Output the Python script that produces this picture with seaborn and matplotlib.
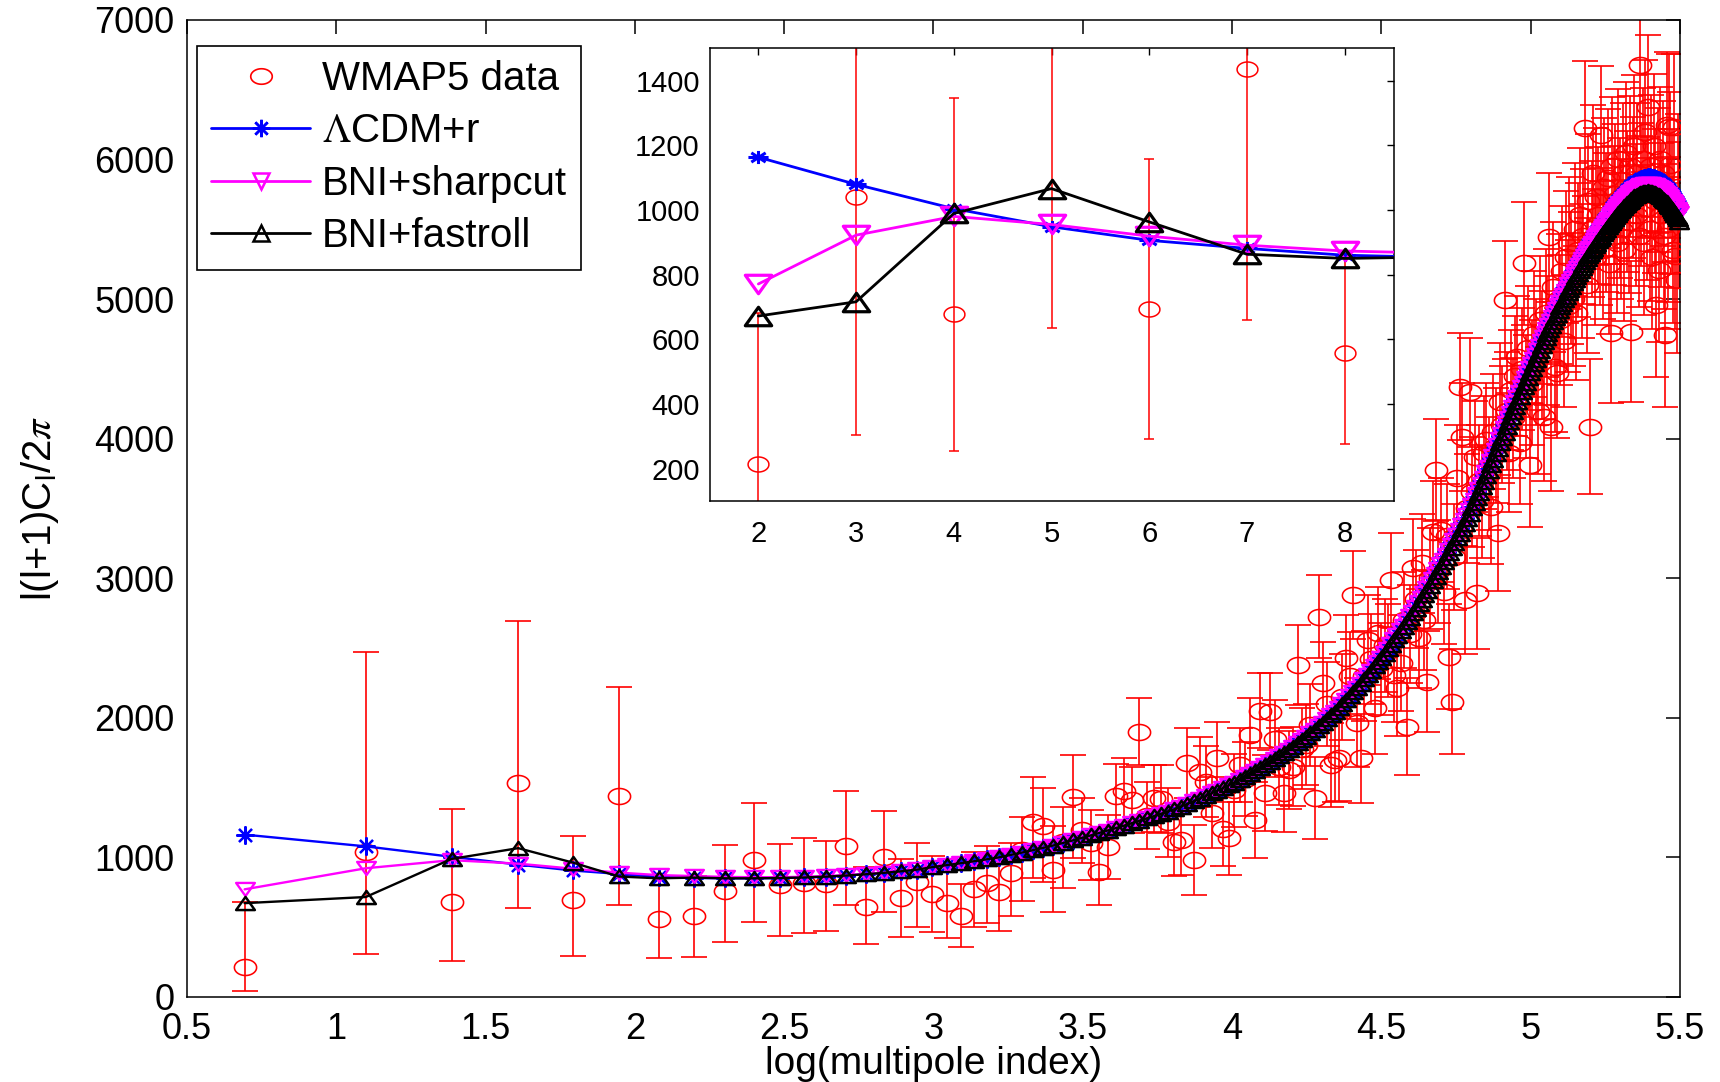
import numpy as np
import matplotlib
matplotlib.use("Agg")
import matplotlib.pyplot as plt
import seaborn as sns
from matplotlib.path import Path
from matplotlib.lines import Line2D

# ---------------- data ----------------
ell = list(range(2, 245))  # multipole index l = 2 .. 244

wmap5 = [
    213, 1040, 677, 1531, 693, 1437, 559, 582, 762, 981,
    802, 819, 807, 1082, 647, 1000, 707, 826, 738, 676,
    582, 771, 814, 755, 890, 1053, 1256, 1225, 909, 1113,
    1435, 1196, 1101, 898, 1077, 1440, 1478, 1412, 1901, 1300,
    1423, 1420, 1250, 1113, 1124, 1674, 982, 1614, 1543, 1321,
    1715, 1201, 1137, 1480, 1662, 1560, 1877, 1268, 2051, 1464,
    2044, 1850, 1650, 1459, 1626, 1650, 2380, 1780, 1806, 1950,
    1423, 2725, 2247, 2100, 1662, 1698, 1710, 2150, 2427, 2300,
    2880, 1966, 1710, 2300, 2558, 2420, 2068, 2606, 2350, 2520,
    2480, 2988, 2307, 2212, 2391, 2700, 1937, 2600, 3071, 2850,
    2570, 3107, 2700, 2259, 3000, 3334, 3776, 3050, 3346, 2904,
    3300, 2438, 2116, 3150, 3716, 4373, 4010, 2845, 3500, 4332,
    3620, 3871, 2892, 3700, 3550, 3900, 3991, 3750, 3513, 4050,
    3950, 3322, 4265, 4100, 4994, 4200, 3900, 4350, 4150, 4450,
    4588, 3967, 4500, 5257, 4300, 4650, 3812, 4400, 4750, 4550,
    4200, 4850, 4600, 4158, 4900, 4700, 5443, 4086, 5089, 4516,
    4469, 5000, 4850, 5200, 4700, 5300, 4950, 5400, 5150, 5000,
    5500, 4900, 5350, 5600, 5200, 5450, 6224, 5100, 5700, 4086,
    5500, 5900, 5300, 5734, 5600, 5450, 6176, 5350, 5800, 5550,
    5866, 5250, 4755, 5950, 5600, 5750, 5400, 6000, 5650, 5500,
    5900, 5350, 6050, 5700, 5550, 5950, 4767, 5800, 6100, 5600,
    5900, 5450, 6678, 5750, 6000, 5400, 6200, 5650, 6379, 5500,
    5950, 5300, 6100, 5700, 4958, 5850, 5209, 6000, 5600, 5900,
    5450, 4743, 6248, 5500, 6236, 5961, 5700, 5350, 6231, 5305,
    5137, 5800, 5600,
]

# asymmetric errors for l = 2 .. 35
wmap5_err_minus_lowl = [
    168, 735, 422, 896, 402, 777, 282, 293, 366, 444,
    365, 363, 332, 425, 270, 389, 280, 328, 270, 256,
    226, 273, 287, 280, 310, 363, 406, 399, 298, 335,
    442, 239, 263, 239,
]
wmap5_err_plus_lowl = [
    467, 1434, 668, 1165, 463, 782, 291, 288, 327, 411,
    292, 318, 310, 396, 283, 333, 283, 274, 272, 264,
    230, 269, 266, 275, 215, 239, 322, 270, 316, 250,
    299, 227, 239, 252,
]
# symmetric errors for l = 36 .. 244
wmap5_err_highl = [
    230, 232, 234, 236, 238, 240, 240, 242, 244, 246,
    248, 250, 250, 252, 254, 256, 258, 260, 260, 262,
    264, 266, 268, 270, 270, 272, 274, 276, 278, 280,
    282, 284, 286, 288, 290, 292, 294, 296, 298, 300,
    302, 304, 306, 308, 310, 312, 314, 316, 318, 320,
    322, 324, 326, 328, 330, 332, 334, 336, 338, 340,
    342, 344, 346, 348, 350, 352, 354, 356, 358, 360,
    362, 364, 366, 368, 370, 372, 374, 376, 378, 380,
    382, 384, 386, 388, 390, 392, 394, 396, 398, 400,
    402, 404, 406, 408, 410, 412, 414, 416, 418, 420,
    422, 424, 426, 428, 430, 432, 434, 436, 438, 440,
    442, 444, 446, 448, 450, 452, 454, 456, 458, 460,
    461, 462, 463, 464, 465, 466, 467, 468, 469, 470,
    471, 472, 473, 474, 475, 476, 477, 478, 479, 480,
    481, 482, 483, 484, 485, 486, 487, 488, 489, 490,
    491, 492, 493, 494, 495, 496, 497, 498, 499, 500,
    500, 501, 501, 502, 502, 503, 503, 504, 504, 505,
    505, 506, 506, 507, 507, 508, 508, 509, 509, 510,
    510, 511, 511, 512, 512, 513, 513, 514, 514, 515,
    515, 516, 516, 517, 517, 518, 518, 519, 519, 520,
    520, 521, 521, 522, 522, 523, 523, 524, 524,
]

lcdm_r = [
    1163, 1079, 1004, 948, 906, 881, 860, 853, 850, 850,
    852, 856, 862, 870, 879, 889, 900, 912, 930, 944,
    958, 972, 986, 1000, 1017, 1034, 1051, 1068, 1085, 1103,
    1121, 1139, 1157, 1175, 1192, 1210, 1227, 1245, 1262, 1279,
    1295, 1312, 1328, 1345, 1364, 1383, 1402, 1421, 1440, 1459,
    1478, 1497, 1516, 1535, 1556, 1577, 1598, 1619, 1640, 1661,
    1682, 1703, 1724, 1745, 1769, 1793, 1817, 1841, 1865, 1890,
    1915, 1940, 1965, 1990, 2017, 2044, 2071, 2098, 2125, 2155,
    2185, 2215, 2245, 2275, 2306, 2337, 2368, 2399, 2430, 2464,
    2498, 2532, 2566, 2600, 2634, 2668, 2702, 2736, 2770, 2804,
    2838, 2872, 2906, 2940, 2975, 3010, 3045, 3080, 3115, 3150,
    3185, 3220, 3255, 3290, 3326, 3362, 3398, 3434, 3470, 3508,
    3546, 3584, 3622, 3660, 3700, 3740, 3780, 3820, 3860, 3900,
    3940, 3980, 4020, 4060, 4098, 4136, 4174, 4212, 4250, 4286,
    4322, 4358, 4394, 4430, 4464, 4498, 4532, 4566, 4600, 4632,
    4664, 4696, 4728, 4760, 4789, 4818, 4847, 4876, 4905, 4932,
    4959, 4986, 5013, 5040, 5065, 5090, 5115, 5140, 5165, 5188,
    5211, 5234, 5257, 5280, 5301, 5322, 5343, 5364, 5385, 5404,
    5423, 5442, 5461, 5480, 5497, 5514, 5531, 5548, 5565, 5582,
    5599, 5616, 5633, 5650, 5664, 5678, 5692, 5706, 5720, 5732,
    5744, 5756, 5768, 5780, 5790, 5800, 5810, 5820, 5830, 5836,
    5842, 5848, 5854, 5860, 5862, 5865, 5867, 5870, 5872, 5871,
    5869, 5866, 5864, 5862, 5857, 5851, 5846, 5840, 5835, 5826,
    5817, 5808, 5799, 5790, 5778, 5766, 5754, 5742, 5730, 5714,
    5698, 5681, 5665,
]

bni_sharpcut = [
    771, 922, 980, 955, 919, 891, 873, 866, 860, 858,
    858, 861, 866, 873, 881, 891, 902, 914, 930, 944,
    958, 972, 986, 1000, 1017, 1034, 1051, 1068, 1085, 1103,
    1121, 1139, 1157, 1175, 1192, 1210, 1227, 1245, 1262, 1279,
    1295, 1312, 1328, 1345, 1364, 1383, 1402, 1421, 1440, 1459,
    1478, 1497, 1516, 1535, 1556, 1577, 1598, 1619, 1640, 1661,
    1682, 1703, 1724, 1745, 1769, 1793, 1817, 1841, 1865, 1890,
    1915, 1940, 1965, 1990, 2017, 2044, 2071, 2098, 2125, 2155,
    2185, 2215, 2245, 2275, 2306, 2337, 2368, 2399, 2430, 2462,
    2494, 2528, 2561, 2594, 2627, 2661, 2694, 2728, 2761, 2794,
    2827, 2860, 2893, 2927, 2961, 2996, 3030, 3065, 3099, 3134,
    3168, 3203, 3237, 3272, 3308, 3343, 3379, 3414, 3450, 3487,
    3525, 3563, 3600, 3638, 3678, 3718, 3758, 3797, 3837, 3877,
    3916, 3956, 3996, 4035, 4073, 4111, 4148, 4186, 4224, 4259,
    4295, 4331, 4367, 4402, 4436, 4470, 4503, 4537, 4571, 4602,
    4634, 4666, 4698, 4729, 4758, 4787, 4816, 4844, 4873, 4900,
    4927, 4954, 4981, 5007, 5032, 5057, 5082, 5106, 5131, 5154,
    5177, 5199, 5222, 5245, 5266, 5286, 5307, 5328, 5349, 5368,
    5387, 5405, 5424, 5443, 5460, 5476, 5493, 5510, 5527, 5543,
    5560, 5577, 5594, 5610, 5624, 5638, 5652, 5665, 5679, 5691,
    5703, 5715, 5727, 5738, 5748, 5758, 5768, 5777, 5787, 5793,
    5799, 5804, 5810, 5816, 5818, 5820, 5822, 5825, 5827, 5826,
    5824, 5820, 5818, 5816, 5811, 5804, 5799, 5793, 5788, 5778,
    5769, 5760, 5751, 5741, 5729, 5717, 5705, 5692, 5680, 5664,
    5648, 5631, 5615,
]

bni_fastroll = [
    672, 716, 989, 1066, 963, 863, 850, 855, 850, 850,
    852, 856, 862, 870, 879, 889, 900, 912, 930, 944,
    958, 972, 986, 1000, 1017, 1034, 1051, 1068, 1085, 1103,
    1121, 1139, 1157, 1175, 1192, 1210, 1227, 1245, 1262, 1279,
    1295, 1312, 1328, 1345, 1364, 1383, 1402, 1421, 1440, 1459,
    1478, 1497, 1516, 1535, 1556, 1577, 1598, 1619, 1640, 1661,
    1682, 1703, 1724, 1745, 1769, 1793, 1817, 1841, 1865, 1890,
    1915, 1940, 1965, 1990, 2017, 2044, 2071, 2098, 2125, 2155,
    2185, 2215, 2245, 2275, 2306, 2337, 2368, 2399, 2430, 2459,
    2490, 2522, 2554, 2586, 2619, 2652, 2685, 2718, 2750, 2782,
    2814, 2846, 2878, 2910, 2944, 2978, 3012, 3046, 3080, 3114,
    3148, 3182, 3216, 3250, 3285, 3320, 3355, 3390, 3425, 3462,
    3500, 3537, 3574, 3612, 3651, 3690, 3730, 3769, 3808, 3848,
    3887, 3926, 3966, 4005, 4042, 4080, 4117, 4154, 4192, 4227,
    4262, 4298, 4333, 4368, 4402, 4435, 4468, 4502, 4535, 4566,
    4598, 4629, 4661, 4692, 4721, 4749, 4778, 4806, 4835, 4861,
    4888, 4914, 4941, 4967, 4992, 5016, 5041, 5065, 5090, 5112,
    5135, 5157, 5180, 5202, 5223, 5243, 5264, 5284, 5305, 5323,
    5342, 5360, 5379, 5397, 5414, 5430, 5447, 5463, 5480, 5496,
    5513, 5529, 5546, 5562, 5576, 5589, 5603, 5616, 5630, 5641,
    5653, 5664, 5676, 5687, 5697, 5706, 5716, 5725, 5735, 5740,
    5746, 5751, 5757, 5762, 5764, 5766, 5768, 5770, 5772, 5770,
    5768, 5764, 5762, 5759, 5754, 5747, 5742, 5735, 5730, 5720,
    5711, 5701, 5692, 5682, 5670, 5657, 5645, 5632, 5620, 5604,
    5588, 5571, 5555,
]

series_labels = ["WMAP5 data", "$\\Lambda$CDM+r", "BNI+sharpcut", "BNI+fastroll"]
main_xticks = [0.5, 1, 1.5, 2, 2.5, 3, 3.5, 4, 4.5, 5, 5.5]
main_xticklabels = ["0.5", "1", "1.5", "2", "2.5", "3", "3.5", "4", "4.5", "5", "5.5"]
main_yticks = [0, 1000, 2000, 3000, 4000, 5000, 6000, 7000]
inset_xticks = [2, 3, 4, 5, 6, 7, 8]
inset_yticks = [200, 400, 600, 800, 1000, 1200, 1400]
x_label = "log(multipole index)"
y_label = "l(l+1)C$_\\mathregular{l}$/2$\\pi$"

# ---------------- styling ----------------
sns.set_theme(style="white")
plt.rcParams["font.family"] = ["Liberation Sans", "DejaVu Sans"]
plt.rcParams["mathtext.fontset"] = "stix"

RED, BLUE, MAG, BLK = "#ff0000", "#0000ff", "#ff00ff", "#000000"

theta = np.linspace(0, 2 * np.pi, 73)
ellipse_mk = Path(np.column_stack([np.cos(theta), 0.72 * np.sin(theta)]))
tri_up_mk = Path([(-1, -0.7), (1, -0.7), (0, 0.7), (-1, -0.7)],
                 [Path.MOVETO, Path.LINETO, Path.LINETO, Path.CLOSEPOLY])
tri_dn_mk = Path([(-1, 0.7), (1, 0.7), (0, -0.7), (-1, 0.7)],
                 [Path.MOVETO, Path.LINETO, Path.LINETO, Path.CLOSEPOLY])
star_mk = (8, 2, 0)
# horizontally stretched asterisk (inset)
wide_star_mk = Path(
    [(0, -0.65), (0, 0.65), (-1, 0), (1, 0),
     (-0.71, -0.46), (0.71, 0.46), (-0.71, 0.46), (0.71, -0.46)],
    [Path.MOVETO, Path.LINETO] * 4)

fig = plt.figure(figsize=(17.2, 10.82), dpi=100)
fig.patch.set_facecolor("white")
ax = fig.add_axes([0.1087, 0.0786, 0.868, 0.903])
ax.set_facecolor("white")

logl = np.log(np.array(ell, dtype=float))
err_minus = wmap5_err_minus_lowl + wmap5_err_highl
err_plus = wmap5_err_plus_lowl + wmap5_err_highl

# data with error bars
ax.errorbar(logl, wmap5, yerr=[err_minus, err_plus], fmt="none",
            ecolor=RED, elinewidth=1.2, capsize=9.5, capthick=1.2, zorder=2)
sns.lineplot(x=logl, y=wmap5, ax=ax, linestyle="none", marker=ellipse_mk,
             markersize=16, markerfacecolor="none", markeredgecolor=RED,
             markeredgewidth=1.15, errorbar=None, legend=False, zorder=3)

# models
model_styles = [
    (lcdm_r, BLUE, star_mk, 13, 1.6),
    (bni_sharpcut, MAG, tri_dn_mk, 13.5, 1.7),
    (bni_fastroll, BLK, tri_up_mk, 13.5, 1.8),
]
for k, (vals, col, mk, ms, mew) in enumerate(model_styles):
    sns.lineplot(x=logl, y=vals, ax=ax, color=col, linewidth=1.7, marker=mk,
                 markersize=ms, markerfacecolor="none", markeredgecolor=col,
                 markeredgewidth=mew, errorbar=None, legend=False,
                 zorder=4 + k, clip_on=False)

ax.set_xlim(0.5, 5.5)
ax.set_ylim(0, 7000)
ax.set_xticks(main_xticks)
ax.set_xticklabels(main_xticklabels)
ax.set_yticks(main_yticks)
ax.set_yticklabels([str(v) for v in main_yticks])
ax.tick_params(direction="in", length=10, width=1.1, top=True, right=True,
               labelsize=26, colors="black")
ax.tick_params(axis="x", pad=11)
ax.tick_params(axis="y", pad=9)
ax.get_yticklabels()[0].set_verticalalignment("center_baseline")
ax.set_xlabel(x_label, fontsize=28, color="black")
ax.set_ylabel(y_label, fontsize=29, color="black")
ax.xaxis.set_label_coords(0.5, -0.05)
ax.yaxis.set_label_coords(-0.0845, 0.5)
for sp in ax.spines.values():
    sp.set_color("black")
    sp.set_linewidth(1.1)

# legend
handles = [
    Line2D([], [], linestyle="none", marker=ellipse_mk, markersize=15.5,
           markerfacecolor="none", markeredgecolor=RED, markeredgewidth=1.2),
    Line2D([], [], color=BLUE, linewidth=2.0, marker=star_mk, markersize=12.5,
           markeredgecolor=BLUE, markeredgewidth=1.8),
    Line2D([], [], color=MAG, linewidth=2.0, marker="v", markersize=11.5,
           markerfacecolor="none", markeredgecolor=MAG, markeredgewidth=1.8),
    Line2D([], [], color=BLK, linewidth=2.0, marker="^", markersize=11.5,
           markerfacecolor="none", markeredgecolor=BLK, markeredgewidth=1.8),
]
leg = ax.legend(handles, series_labels, loc="upper left",
                bbox_to_anchor=(0.0067, 0.9734), borderaxespad=0,
                frameon=True, fancybox=False, shadow=False, framealpha=1,
                edgecolor="black", fontsize=29, handlelength=2.46,
                handletextpad=0.3, labelspacing=0.36, borderpad=0.35)
leg.get_frame().set_linewidth(1.2)
for t in leg.get_texts():
    t.set_color("black")

# ---------------- inset ----------------
axin = fig.add_axes([0.4125, 0.537, 0.3977, 0.4184])
axin.set_zorder(10)
axin.set_facecolor("white")
n_in = 8  # l = 2..9
ell_in = ell[:n_in]
axin.errorbar(ell_in, wmap5[:n_in],
              yerr=[err_minus[:n_in], err_plus[:n_in]], fmt="none",
              ecolor=RED, elinewidth=1.1, capsize=3.6, capthick=1.1, zorder=2)
sns.lineplot(x=ell_in, y=wmap5[:n_in], ax=axin, linestyle="none",
             marker=ellipse_mk, markersize=15, markerfacecolor="none",
             markeredgecolor=RED, markeredgewidth=1.1, errorbar=None,
             legend=False, zorder=3)
inset_styles = [
    (lcdm_r, BLUE, wide_star_mk, 14.5, 2.2),
    (bni_sharpcut, MAG, tri_dn_mk, 19, 2.3),
    (bni_fastroll, BLK, tri_up_mk, 19, 2.3),
]
for k, (vals, col, mk, ms, mew) in enumerate(inset_styles):
    sns.lineplot(x=ell_in, y=vals[:n_in], ax=axin, color=col, linewidth=2.0,
                 marker=mk, markersize=ms, markerfacecolor="none",
                 markeredgecolor=col, markeredgewidth=mew, errorbar=None,
                 legend=False, zorder=4 + k)
axin.set_xlim(1.5, 8.5)
axin.set_ylim(100, 1500)
axin.set_xticks(inset_xticks)
axin.set_xticklabels([str(v) for v in inset_xticks])
axin.set_yticks(inset_yticks)
axin.set_yticklabels([str(v) for v in inset_yticks])
axin.tick_params(direction="in", length=5, width=1.0, top=True, right=True,
                 labelsize=21, colors="black")
axin.tick_params(axis="x", pad=14)
axin.tick_params(axis="y", pad=7)
axin.set_xlabel("")
axin.set_ylabel("")
for sp in axin.spines.values():
    sp.set_color("black")
    sp.set_linewidth(1.1)

fig.savefig("out.png", dpi=100, facecolor="white")
